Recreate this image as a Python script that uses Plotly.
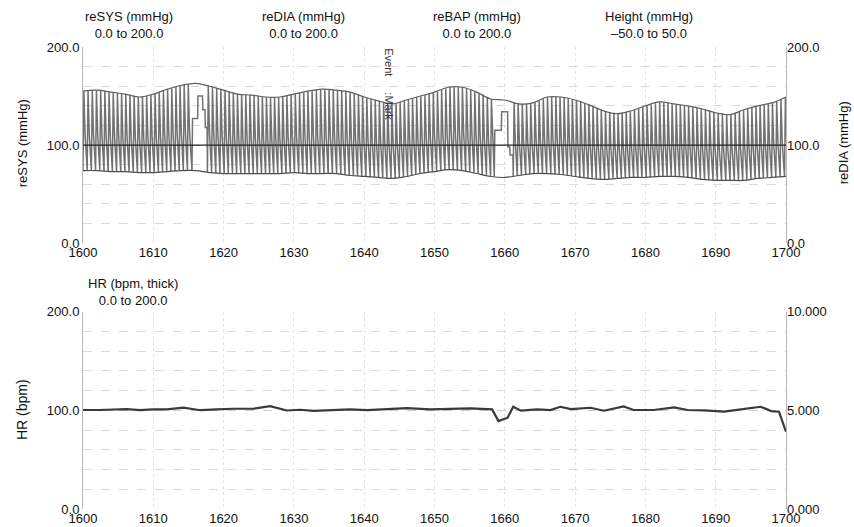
import numpy as np
import plotly.graph_objects as go

# ---------------- data ----------------
t_env = list(range(1600, 1701, 2))
sys_mmhg = [155, 156, 154, 152, 149, 152, 157, 161, 163, 160,
            156, 152, 151, 149, 149, 152, 155, 157, 156, 154,
            149, 145, 142, 146, 150, 154, 159, 159, 154, 147,
            146, 142, 143, 149, 149, 146, 141, 135, 132, 135,
            140, 144, 142, 140, 137, 133, 131, 136, 140, 143, 149]
dia_mmhg = [74, 74, 73, 73, 72, 72, 73, 74, 74, 72,
            71, 71, 71, 71, 71, 72, 71, 71, 71, 69,
            68, 67, 66, 68, 71, 73, 75, 74, 71, 68,
            67, 69, 71, 71, 70, 68, 66, 65, 66, 67,
            67, 68, 68, 67, 65, 64, 64, 64, 66, 67, 68]

hr_t = [1600, 1602.4, 1606.2, 1608.1, 1610, 1611.9, 1614.3, 1616.7, 1619, 1621.4,
        1624.2, 1626.6, 1629, 1630.9, 1632.8, 1635.6, 1638, 1640.4, 1643.3, 1646.1,
        1649.4, 1652.7, 1655.1, 1658.2, 1659.1, 1660.4, 1661.2, 1662.3, 1664.6, 1666.5,
        1667.9, 1669.4, 1672.2, 1674.1, 1676.9, 1678.3, 1681.2, 1684.1, 1686, 1688.3,
        1691.2, 1693.6, 1696.4, 1697.9, 1699, 1700]
hr_bpm = [100.4, 100.4, 101.4, 100.2, 101.0, 101.0, 102.9, 100.2, 101.0, 101.7,
          101.7, 104.4, 99.9, 100.7, 99.6, 100.2, 101.0, 100.2, 101.7, 102.4,
          101.0, 101.7, 102.0, 101.0, 89.2, 92.6, 103.7, 99.7, 101.0, 100.4,
          103.7, 101.4, 102.7, 99.7, 104.1, 100.4, 100.4, 103.1, 100.4, 100.0,
          98.7, 101.0, 103.7, 99.3, 98.7, 78.4]

height_t = [1600, 1700]
height_mmhg = [0.0, 0.0]

# calibration (Physiocal) plateaus in the reBAP signal
cal1_t = [1615.5, 1615.58, 1616.3, 1616.35, 1617.0, 1617.05, 1617.35, 1617.4, 1617.65]
cal1_v = [74, 127, 127, 150, 150, 136, 136, 118, 118]
cal2_t = [1658.5, 1658.58, 1659.5, 1659.55, 1660.4, 1660.45, 1660.7, 1660.75, 1661.15]
cal2_v = [68, 115, 115, 134, 134, 98, 98, 90, 90]

event_t = 1643.6
event_labels = ["Event", ":Mark"]
event_y = [185, 140]

x_tick_step = 10

# ---------------- build reBAP waveform from beat values ----------------
gaps = [(cal1_t, cal1_v), (cal2_t, cal2_v)]
bap_t, bap_v = [], []
t = 1600.0
gi = 0
while t < 1701:
    if gi < len(gaps) and t >= gaps[gi][0][0] - 0.1:
        bap_t += gaps[gi][0]
        bap_v += gaps[gi][1]
        t = gaps[gi][0][-1] + 0.05
        gi += 1
        continue
    s = float(np.interp(t, t_env, sys_mmhg))
    d = float(np.interp(t, t_env, dia_mmhg))
    period = 60.0 / max(float(np.interp(t, hr_t, hr_bpm)), 95.0)
    bap_t += [t, t + 0.12, t + 0.3]
    bap_v += [d, s, d + 0.45 * (s - d)]
    t += period

FONT = "Liberation Sans, Arial, sans-serif"
GRID = "#cdcdcd"
MINOR = "#dadada"

# page-pixel helpers (plot area spans x 83..786, y 46.7..509 on the page)
PX0, PX1, PY0, PY1 = 83.0, 786.0, 46.7, 509.0
W, H = 854, 527
def xp(px):
    return (px - PX0) / (PX1 - PX0)
def yp(py):
    return 1 - (py - PY0) / (PY1 - PY0)

fig = go.Figure()
fig.add_trace(go.Scatter(x=bap_t, y=bap_v, mode="lines",
                         line=dict(color="#727272", width=1.5), yaxis="y", xaxis="x"))
fig.add_trace(go.Scatter(x=t_env, y=sys_mmhg, mode="lines", line_shape="spline",
                         line=dict(color="#5e5e5e", width=1.2), yaxis="y", xaxis="x"))
fig.add_trace(go.Scatter(x=t_env, y=dia_mmhg, mode="lines", line_shape="spline",
                         line=dict(color="#4e4e4e", width=1.2), yaxis="y5", xaxis="x"))
fig.add_trace(go.Scatter(x=height_t, y=height_mmhg, mode="lines",
                         line=dict(color="#222222", width=1.3), yaxis="y3", xaxis="x"))
fig.add_trace(go.Scatter(x=hr_t, y=hr_bpm, mode="lines",
                         line=dict(color="#3a3a3a", width=2.2), yaxis="y2", xaxis="x2"))
fig.add_trace(go.Scatter(x=[], y=[], mode="lines", yaxis="y4", xaxis="x2"))

xcommon = dict(range=[1600, 1700], dtick=x_tick_step, tickformat="d", showgrid=True,
               gridcolor="#e2e2e2", griddash="dot", zeroline=False, showline=False,
               ticks="", tickfont=dict(size=13, color="#111"), automargin=False)
ycommon = dict(range=[0, 200], dtick=100, tickformat=".1f", showgrid=True,
               gridcolor=GRID, griddash="dash", zeroline=False,
               minor=dict(dtick=20, showgrid=True, gridcolor=MINOR, griddash="dash"),
               showline=True, linecolor="#b8b8b8", mirror=True, ticks="",
               tickfont=dict(size=13, color="#111"), automargin=False)

fig.update_layout(
    width=W, height=H, template="none",
    paper_bgcolor="white", plot_bgcolor="white",
    font=dict(family=FONT, size=13, color="#111"),
    margin=dict(l=PX0, r=W - PX1, t=PY0, b=H - PY1),
    showlegend=False,
    xaxis=dict(domain=[0, 1], anchor="y", **xcommon),
    xaxis2=dict(domain=[0, 1], anchor="y2", **xcommon),
    yaxis=dict(domain=[yp(243), 1.0], anchor="x", **ycommon),
    yaxis2=dict(domain=[0.0, yp(311.7)], anchor="x2", **ycommon),
    yaxis3=dict(overlaying="y", range=[-50, 50], visible=False),
    yaxis5=dict(overlaying="y", side="right", anchor="x", range=[0, 200], dtick=100,
                tickformat=".1f", showgrid=False, zeroline=False, ticks="",
                tickfont=dict(size=13, color="#111"), automargin=False),
    yaxis4=dict(overlaying="y2", side="right", anchor="x2", range=[0, 10], dtick=5,
                tickformat=".3f", showgrid=False, zeroline=False, ticks="",
                tickfont=dict(size=13, color="#111"), automargin=False),
)

ann = []
headers = [("reSYS (mmHg)<br>0.0 to 200.0", 129),
           ("reDIA (mmHg)<br>0.0 to 200.0", 303),
           ("reBAP (mmHg)<br>0.0 to 200.0", 477),
           ("Height (mmHg)<br>\u201350.0 to 50.0", 649)]
for txt, px in headers:
    ann.append(dict(text=txt, x=xp(px), y=yp(25), xref="paper", yref="paper",
                    showarrow=False, xanchor="center", yanchor="middle",
                    font=dict(size=13)))
ann.append(dict(text="HR (bpm, thick)<br>0.0 to 200.0", x=xp(133), y=yp(292),
                xref="paper", yref="paper", showarrow=False,
                xanchor="center", yanchor="middle", font=dict(size=13)))
# axis titles
ann.append(dict(text="reSYS (mmHg)", x=xp(22), y=yp(143),
                xref="paper", yref="paper", showarrow=False, textangle=-90,
                xanchor="center", yanchor="middle", font=dict(size=13)))
ann.append(dict(text="HR (bpm)", x=xp(22), y=yp(410),
                xref="paper", yref="paper", showarrow=False, textangle=-90,
                xanchor="center", yanchor="middle", font=dict(size=14)))
ann.append(dict(text="reDIA (mmHg)", x=xp(843), y=yp(143),
                xref="paper", yref="paper", showarrow=False, textangle=-90,
                xanchor="center", yanchor="middle", font=dict(size=13)))
for lab, yv in zip(event_labels, event_y):
    ann.append(dict(text=lab, x=event_t, y=yv, xref="x", yref="y", showarrow=False,
                    textangle=90, xanchor="center", yanchor="middle",
                    font=dict(size=11, color="#333")))
fig.update_layout(annotations=ann)

fig.write_html("out.html",
               config={"displayModeBar": False},
               post_script="document.body.style.margin='0';"
                           "document.body.style.overflow='hidden';")
